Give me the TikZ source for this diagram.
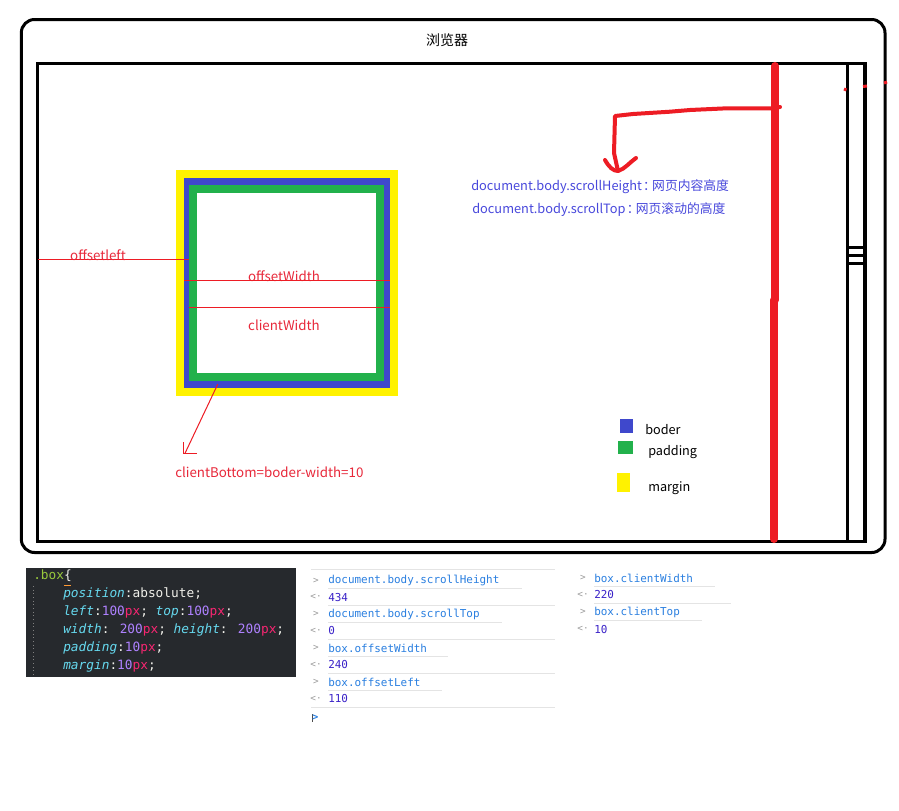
\documentclass[tikz,border=0pt]{standalone}
\usepackage{fontspec}
\newfontfamily\cjk{Noto Sans CJK SC}
\newfontfamily\monof{DejaVu Sans Mono}
\definecolor{pred}{HTML}{ED1C24}
\definecolor{pblue}{HTML}{3F48CC}
\definecolor{pgreen}{HTML}{22B14C}
\definecolor{pyellow}{HTML}{FFF200}
\definecolor{labred}{HTML}{E8283A}
\definecolor{labblue}{HTML}{4848DC}
\definecolor{codebg}{HTML}{26292D}
\definecolor{cgreen}{HTML}{98C93C}
\definecolor{ccyan}{HTML}{66D9EF}
\definecolor{cwhite}{HTML}{F0F0EA}
\definecolor{cnumc}{HTML}{AE81FF}
\definecolor{cunitc}{HTML}{F92672}
\definecolor{concmd}{HTML}{2A7FE0}
\definecolor{conres}{HTML}{3A22C8}
\definecolor{congray}{HTML}{9A9A9A}
\definecolor{conline}{HTML}{E4E4E4}
\newcommand\cprop[1]{\textcolor{ccyan}{\itshape #1}}
\newcommand\cnum[1]{\textcolor{cnumc}{#1}}
\newcommand\cunit[1]{\textcolor{cunitc}{#1}}
\begin{document}
\begin{tikzpicture}[x=0.75pt,y=-0.75pt,
  frame/.style={draw=black,line width=2.25pt},
  sanslbl/.style={font=\cjk\fontsize{10}{12}\selectfont,inner sep=0pt},
  legendlbl/.style={font=\cjk\fontsize{9.5}{12}\selectfont,inner sep=0pt,anchor=west},
  redlbl/.style={sanslbl,text=labred},
  bluelbl/.style={font=\cjk\fontsize{9.6}{12}\selectfont,inner sep=0pt,text=labblue,anchor=west},
  thinred/.style={draw=pred,line width=0.75pt},
  codetxt/.style={font=\monof\fontsize{9.6}{12}\selectfont,inner sep=0pt,anchor=west,text=cwhite},
  contxt/.style={font=\monof\fontsize{8.2}{10}\selectfont,inner sep=0pt,anchor=west},
  cmd/.style={contxt,text=concmd},
  res/.style={contxt,text=conres},
  prm/.style={font=\monof\fontsize{7}{8}\selectfont,inner sep=0pt,text=congray},
  sep/.style={draw=conline,line width=0.75pt}
]
\useasboundingbox (0,0) rectangle (899,810);
\fill[white] (0,0) rectangle (899,810);

% browser frame
\draw[frame,rounded corners=10pt] (21.3,19.5) rectangle (885,552.5);
\draw[frame] (37.7,63.3) rectangle (865,541);
\draw[draw=black,line width=3.5pt] (865,63.3) -- (865,541);
\draw[draw=black,line width=2.25pt] (847.5,63.3) -- (847.5,541);
\foreach \yy in {247.5,255.3,263.8}
  \draw[draw=black,line width=2.25pt] (848,\yy) -- (864,\yy);
\node[font=\cjk\fontsize{10.5}{12}\selectfont,inner sep=0pt] (title) at (447,40) {浏览器};

% box
\fill[pyellow] (176,170) rectangle (398,396);
\fill[pblue] (184,178) rectangle (390,388);
\fill[pgreen] (189,185) rectangle (384,381);
\fill[white] (197,193) rectangle (376,373);

% thin red measurements
\coordinate (olA) at (38,259.3);
\coordinate (olB) at (189,259.3);
\draw[thinred] (olA) -- (olB);
\node[redlbl] (offl) at (98,255) {offsetleft};
\coordinate (owA) at (184,280);
\coordinate (owB) at (390,280);
\node[redlbl] (offw) at (284,276) {offsetWidth};
\draw[thinred] (owA) -- (owB);
\coordinate (cwA) at (189,307.3);
\coordinate (cwB) at (390,307.3);
\draw[thinred] (cwA) -- (cwB);
\node[redlbl] (clw) at (284,325) {clientWidth};
\coordinate (dgA) at (217.7,384.3);
\coordinate (dgB) at (185,453.3);
\draw[thinred] (dgA) -- (dgB);
\draw[thinred] (183.7,442) -- (183.7,453.3) -- (196.7,453.3);
\node[redlbl,anchor=west] (clb) at (175,472) {clientBottom=boder-width=10};

% scroll texts
\node[bluelbl] (sh) at (471,187) {document.body.scrollHeight\kern0.1em：\kern-0.3em网页内容高度};
\node[bluelbl] (st) at (472,210) {document.body.scrollTop\kern0.1em：\kern-0.3em网页滚动的高度};

% big red line and arrow
\draw[draw=pred,line width=6pt,line cap=round] (775,66) -- (775,300);
\draw[draw=pred,line width=6pt,line cap=round] (774,300) -- (774,539);
\draw[draw=pred,line width=3pt,line cap=round,line join=round]
  (780,107) -- (772,108.3) -- (727,108.3) -- (690,110) -- (670,111.7) -- (633,114) -- (615,116) -- (614,153) -- (618,171);
\draw[draw=pred,line width=3pt,line cap=round,line join=round]
  (605,160) .. controls (609,167) and (613,171) .. (618,171) .. controls (625,169) and (630,162) .. (636,158);
\draw[draw=pred,line width=2.25pt] (844,89) -- (846.5,90);
\draw[draw=pred,line width=2.25pt] (863,86.5) -- (867,86);
\draw[draw=pred,line width=2.25pt] (884,83) -- (887,82);

% legend
\fill[pblue] (620,419) rectangle (633,433);
\fill[pgreen] (618,441) rectangle (633,454);
\fill[pyellow] (617,473) rectangle (630,492);
\node[legendlbl] (lgb) at (645,430) {boder};
\node[legendlbl] (lgp) at (648,452) {padding};
\node[legendlbl] (lgm) at (648,488) {margin};

% code panel
\fill[codebg] (26,568) rectangle (296,677);
\draw[draw=gray,line width=0.75pt,dotted] (33,586) -- (33,676);
\node[codetxt] (c1) at (33,576) {\textcolor{cgreen}{.box}\{};
\draw[draw=orange!80!white,line width=0.6pt] (64,585) -- (71,585);
\node[codetxt] (c2) at (63,594) {\cprop{position}:absolute;};
\node[codetxt] (c3) at (63,612) {\cprop{left}:\cnum{100}\cunit{px}; \cprop{top}:\cnum{100}\cunit{px};};
\node[codetxt] (c4) at (63,630) {\cprop{width}: \cnum{200}\cunit{px}; \cprop{height}: \cnum{200}\cunit{px};};
\node[codetxt] (c5) at (63,648) {\cprop{padding}:\cnum{10}\cunit{px};};
\node[codetxt] (c6) at (63,666) {\cprop{margin}:\cnum{10}\cunit{px};};

% console left column
\draw[sep] (311,569.3) -- (555,569.3);
\draw[sep] (328,588.3) -- (522,588.3);
\draw[sep] (328,605) -- (555,605);
\draw[sep] (328,622.3) -- (502,622.3);
\draw[sep] (328,639.3) -- (555,639.3);
\draw[sep] (328,656.7) -- (448,656.7);
\draw[sep] (328,673.3) -- (555,673.3);
\draw[sep] (328,690) -- (442,690);
\draw[sep] (311,707.3) -- (555,707.3);
\node[prm] (p1) at (316,580.7) {>};
\node[cmd] (t1) at (328,580.7) {document.body.scrollHeight};
\node[prm] (p2) at (316,597.3) {<·};
\node[res] (t2) at (328,597.3) {434};
\node[prm] (p3) at (316,614) {>};
\node[cmd] (t3) at (328,614) {document.body.scrollTop};
\node[prm] (p4) at (316,631) {<·};
\node[res] (t4) at (328,631) {0};
\node[prm] (p5) at (316,648) {>};
\node[cmd] (t5) at (328,648) {box.offsetWidth};
\node[prm] (p6) at (316,665) {<·};
\node[res] (t6) at (328,665) {240};
\node[prm] (p7) at (316,682) {>};
\node[cmd] (t7) at (328,682) {box.offsetLeft};
\node[prm] (p8) at (316,699) {<·};
\node[res] (t8) at (328,699) {110};
\fill[black!70] (311.5,714) rectangle (313,721.5);
\node[font=\monof\bfseries\fontsize{7.5}{8}\selectfont,inner sep=0pt,text=concmd] (p9) at (315.5,717.5) {>};

% console right column
\draw[sep] (594,586) -- (715,586);
\draw[sep] (594,603.3) -- (731,603.3);
\draw[sep] (594,620.7) -- (702,620.7);
\node[prm] (q1) at (583,578.3) {>};
\node[cmd] (r1) at (594,578.3) {box.clientWidth};
\node[prm] (q2) at (583,595) {<·};
\node[res] (r2) at (594,595) {220};
\node[prm] (q3) at (583,612.3) {>};
\node[cmd] (r3) at (594,612.3) {box.clientTop};
\node[prm] (q4) at (583,629.3) {<·};
\node[res] (r4) at (594,629.3) {10};
\end{tikzpicture}
\end{document}
